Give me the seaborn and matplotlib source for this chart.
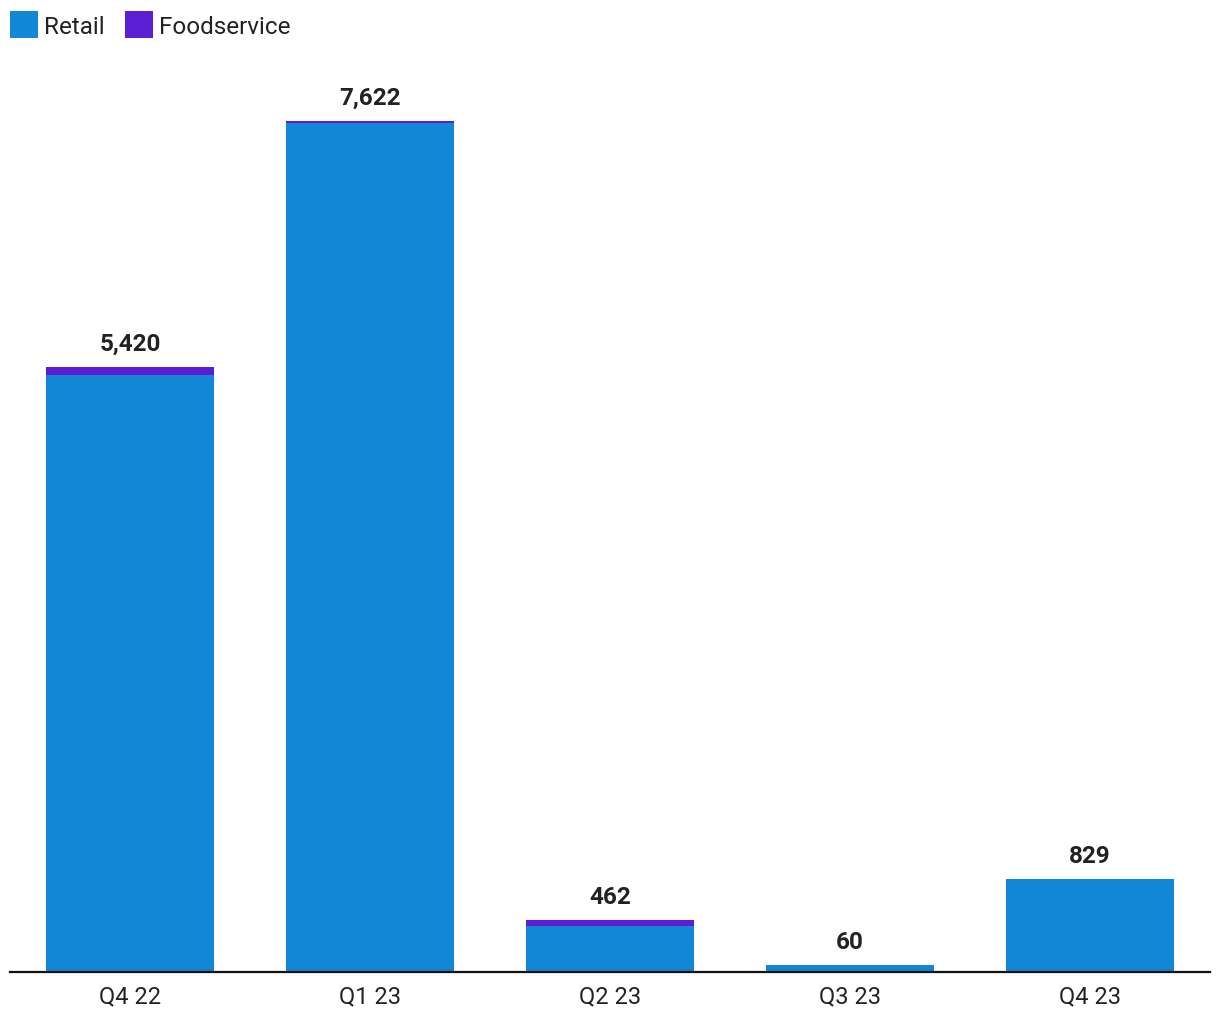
import matplotlib
matplotlib.use("Agg")
import matplotlib.pyplot as plt
import seaborn as sns
import pandas as pd
from matplotlib.patches import Patch

quarters = ["Q4 22", "Q1 23", "Q2 23", "Q3 23", "Q4 23"]
retail = [5348, 7604, 408, 60, 829]
foodservice = [72, 18, 54, 0, 0]
totals = [r + f for r, f in zip(retail, foodservice)]

retail_color = "#1287D6"
food_color = "#5B1ED3"

sns.set_theme(style="white")
plt.rcParams["font.family"] = ["Roboto", "DejaVu Sans"]

df = pd.DataFrame({"quarter": quarters, "retail": retail, "total": totals})

fig = plt.figure(figsize=(12.2, 10.2), dpi=100)
ax = fig.add_axes([10 / 1220, 47.5 / 1020, 1200 / 1220, (972.5 - 57.6) / 1020])

sns.barplot(data=df, x="quarter", y="total", color=food_color, width=0.7,
            saturation=1, ax=ax, linewidth=0)
sns.barplot(data=df, x="quarter", y="retail", color=retail_color, width=0.7,
            saturation=1, ax=ax, linewidth=0)

ax.set_xlim(-0.5, 4.5)
ax.set_ylim(0, 8200)
ax.set_xlabel("")
ax.set_ylabel("")
ax.set_yticks([])
for s in ["top", "right", "left"]:
    ax.spines[s].set_visible(False)
ax.spines["bottom"].set_color("#111111")
ax.spines["bottom"].set_linewidth(1.6)
ax.tick_params(axis="x", length=0, pad=9.5, labelsize=17, labelcolor="#222222")

for i, t in enumerate(totals):
    ax.annotate(f"{t:,}", (i, t), xytext=(0, 17), textcoords="offset points",
                ha="center", va="center", fontsize=17.5, fontweight="bold",
                color="#222222")

handles = [Patch(facecolor=retail_color, edgecolor="none", label="Retail"),
           Patch(facecolor=food_color, edgecolor="none", label="Foodservice")]
fig.legend(handles=handles, loc="upper left",
           bbox_to_anchor=(10 / 1220, 1 - 12 / 1020),
           ncol=2, frameon=False, fontsize=17.5, handlelength=1.15,
           handleheight=1.35, handletextpad=0.25, columnspacing=0.85,
           borderaxespad=0, borderpad=0, labelcolor="#222222")

fig.savefig("out.png", dpi=100)
